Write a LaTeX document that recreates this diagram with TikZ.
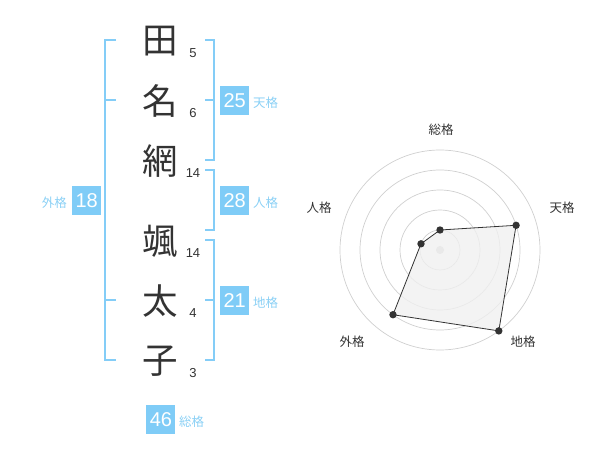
\documentclass[tikz,border=0pt]{standalone}
\usepackage{fontspec}
\usetikzlibrary{calc}
\setmainfont{Liberation Sans}
\newfontfamily\jpfont{Noto Sans CJK JP}
\definecolor{ink}{HTML}{333333}
\definecolor{boxblue}{HTML}{7FCCF7}
\definecolor{labblue}{HTML}{8AD0F5}
\definecolor{lineblue}{HTML}{84CDF7}
\definecolor{ringgray}{HTML}{CFCFCF}
\definecolor{polyfill}{HTML}{F0F0F0}
\begin{document}
\begin{tikzpicture}[x=1pt,y=-1pt,
  bigchar/.style={font=\jpfont\fontsize{35.5}{35.5}\selectfont, text=ink, inner sep=0pt},
  strokes/.style={font=\fontsize{13}{13}\selectfont, text=ink, inner sep=0pt},
  score/.style={fill=boxblue, text=white, font=\fontsize{20}{20}\selectfont, minimum width=29pt, minimum height=29pt, inner sep=0pt},
  kaku/.style={font=\jpfont\fontsize{12.5}{12.5}\selectfont, text=labblue, inner sep=0pt},
  bracket/.style={draw=lineblue, line width=2pt},
  axislab/.style={font=\jpfont\fontsize{12.5}{12.5}\selectfont, text=ink, inner sep=0pt},
  ring/.style={draw=ringgray, line width=0.7pt},
  datadot/.style={fill=ink, draw=none}
]
\useasboundingbox (0,0) rectangle (600,470);

% name characters
\node[bigchar] (c1) at (160,41) {田};
\node[bigchar] (c2) at (160,101) {名};
\node[bigchar] (c3) at (160,161) {網};
\node[bigchar] (c4) at (160,241) {颯};
\node[bigchar] (c5) at (160,301) {太};
\node[bigchar] (c6) at (160,361) {子};

% stroke counts
\node[strokes] (n1) at (193,53) {5};
\node[strokes] (n2) at (193,113) {6};
\node[strokes] (n3) at (193,173) {14};
\node[strokes] (n4) at (193,253) {14};
\node[strokes] (n5) at (193,313) {4};
\node[strokes] (n6) at (193,373) {3};

% brackets
\draw[bracket] (116,40) -- (105,40) -- (105,360) -- (116,360);
\draw[bracket] (105,100) -- (116,100);
\draw[bracket] (105,300) -- (116,300);
\draw[bracket] (205,40) -- (214,40) -- (214,160) -- (205,160);
\draw[bracket] (214,100) -- (205,100);
\draw[bracket] (205,170) -- (214,170) -- (214,230) -- (205,230);
\draw[bracket] (205,240) -- (214,240) -- (214,360) -- (205,360);
\draw[bracket] (214,300) -- (205,300);

% scores
\node[score] (s1) at (234.7,100.3) {25};
\node[kaku, anchor=west] (k1) at (253,103) {天格};
\node[score] (s2) at (234.7,200.3) {28};
\node[kaku, anchor=west] (k2) at (253,203) {人格};
\node[score] (s3) at (234.7,300.5) {21};
\node[kaku, anchor=west] (k3) at (253,303) {地格};
\node[score] (s4) at (86.7,200.3) {18};
\node[kaku, anchor=east] (k4) at (67,203) {外格};
\node[score] (s5) at (160.9,419.5) {46};
\node[kaku, anchor=west] (k5) at (179,422) {総格};

% radar chart
\coordinate (rc) at (440,250);
\foreach \r in {20,40,60,80,100} \draw[ring] (rc) circle[radius=\r pt];
\fill[ringgray] (rc) circle[radius=4pt];
\coordinate (p1) at ($(rc)+(0,-20)$);
\coordinate (p2) at ($(rc)+(76.1,-24.7)$);
\coordinate (p3) at ($(rc)+(58.8,80.9)$);
\coordinate (p4) at ($(rc)+(-47,64.7)$);
\coordinate (p5) at ($(rc)+(-19,-6.2)$);
\filldraw[fill=polyfill, fill opacity=0.8, draw=ink, line width=0.8pt] (p1) -- (p2) -- (p3) -- (p4) -- (p5) -- cycle;
\foreach \p in {p1,p2,p3,p4,p5} \fill[datadot] (\p) circle[radius=3.7pt];
\node[axislab] (a1) at (441,130) {総格};
\node[axislab] (a2) at (562,208) {天格};
\node[axislab] (a3) at (523,342) {地格};
\node[axislab] (a4) at (352,342) {外格};
\node[axislab] (a5) at (319,208) {人格};
\end{tikzpicture}
\end{document}
